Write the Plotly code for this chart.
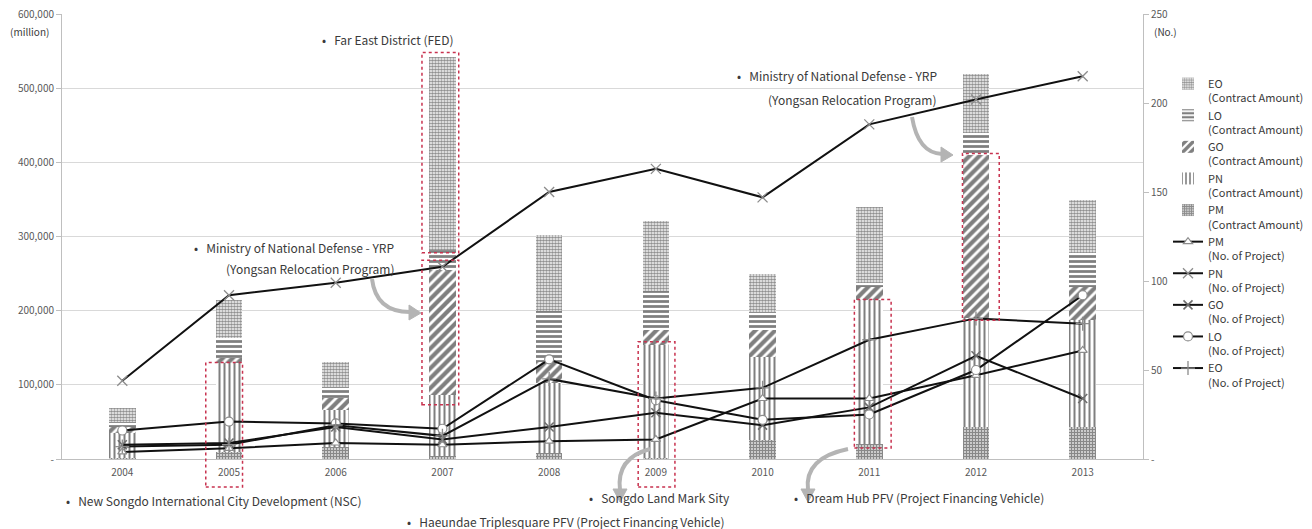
import plotly.graph_objects as go

# ---- data -------------------------------------------------------------
years = ["2004", "2005", "2006", "2007", "2008", "2009", "2010", "2011", "2012", "2013"]

# contract amounts (million), stacked bottom -> top
pm_amount = [2000, 9000, 16000, 4000, 8000, 2000, 25000, 20000, 43000, 43000]
pn_amount = [33000, 120000, 50000, 82000, 94000, 152000, 112000, 194000, 147000, 144000]
go_amount = [8000, 7000, 16000, 169000, 29000, 20000, 37000, 18000, 220000, 45000]
lo_amount = [7000, 27000, 15000, 27000, 68000, 52000, 24000, 5000, 29000, 46000]
eo_amount = [19000, 51000, 34000, 260000, 103000, 95000, 51000, 103000, 80000, 71000]

# number of projects
pm_count = [4, 6, 9, 8, 10, 11, 34, 34, 47, 61]
pn_count = [44, 92, 99, 108, 150, 163, 147, 188, 202, 215]
go_count = [8, 9, 18, 11, 18, 26, 19, 29, 58, 34]
lo_count = [16, 21, 20, 17, 56, 33, 22, 25, 50, 92]
eo_count = [7, 8, 19, 13, 45, 34, 40, 67, 79, 76]

left_ticks = [0, 100000, 200000, 300000, 400000, 500000, 600000]
left_ticktext = ["-", "100,000", "200,000", "300,000", "400,000", "500,000", "600,000"]
right_ticks = [0, 50, 100, 150, 200, 250]
right_ticktext = ["-", "50", "100", "150", "200", "250"]

# ---- geometry helpers (plot area in pixels) ---------------------------
W, H = 1312, 529
L, R, T, B = 62, 1143, 14, 459
Y_MAX = 600000
N = len(years)


def px(x):
    return (x - L) / (R - L)


def py(y):
    return (B - y) / (B - T)


def cat_x(i, off=0.0):
    return (i + 0.5 + off) / N


FONT = "Noto Sans CJK KR, Noto Sans, sans-serif"
TXT = "#3a3a3a"
GRAY = "#595959"

fig = go.Figure()

# ---- stacked bars ------------------------------------------------------
bar_specs = [
    ("PM", pm_amount, dict(shape="+", fgcolor="#111111", size=3, solidity=0.75), 5),
    ("PN", pn_amount, dict(shape="|", fgcolor="#000000", size=5, solidity=0.4), 4),
    ("GO", go_amount, dict(shape="/", fgcolor="#000000", size=7, solidity=0.6), 3),
    ("LO", lo_amount, dict(shape="-", fgcolor="#000000", size=5, solidity=0.55), 2),
    ("EO", eo_amount, dict(shape=".", fgcolor="#222222", size=3, solidity=0.65), 1),
]
for name, vals, pat, rank in bar_specs:
    fig.add_trace(go.Bar(
        x=years, y=vals, name=f"{name}<br>(Contract Amount)",
        width=0.25,
        marker=dict(color="white", line=dict(width=0),
                    pattern=dict(bgcolor="white", fillmode="overlay", **pat)),
        legendrank=rank,
    ))

# ---- project-count lines -------------------------------------------------
line_specs = [
    ("PM", pm_count, dict(symbol="triangle-up", size=8, color="white",
                          line=dict(color="#8c8c8c", width=1.2)), 6),
    ("PN", pn_count, dict(symbol="x-thin", size=10,
                          line=dict(color="#8c8c8c", width=1.3)), 7),
    ("GO", go_count, dict(symbol="x-thin", size=9,
                          line=dict(color="#6e6e6e", width=1.6)), 8),
    ("LO", lo_count, dict(symbol="circle", size=9, color="white",
                          line=dict(color="#8c8c8c", width=1.2)), 9),
    ("EO", eo_count, dict(symbol="cross-thin", size=10,
                          line=dict(color="#8c8c8c", width=1.3)), 10),
]
for name, vals, mk, rank in line_specs:
    fig.add_trace(go.Scatter(
        x=years, y=vals, yaxis="y2", mode="lines+markers",
        name=f"{name}<br>(No. of Project)",
        line=dict(color="#111111", width=2),
        marker=mk, legendrank=rank,
    ))

# ---- highlight boxes (red dotted) ----------------------------------------
def stack_top(i, upto):
    series = [pm_amount, pn_amount, go_amount, lo_amount, eo_amount]
    return sum(s[i] for s in series[:upto])


boxes = [
    (1, -0.063, (stack_top(1, 2) + 1000) / Y_MAX),
    (3, (stack_top(3, 4) - 4000) / Y_MAX, (stack_top(3, 5) + 6000) / Y_MAX),
    (3, (stack_top(3, 2) - 13000) / Y_MAX, (stack_top(3, 3) + 13000) / Y_MAX),
    (5, -0.063, (stack_top(5, 2) + 4000) / Y_MAX),
    (7, (stack_top(7, 1) - 5000) / Y_MAX, (stack_top(7, 2) + 1000) / Y_MAX),
    (8, (stack_top(8, 2) - 3000) / Y_MAX, (stack_top(8, 3) + 2000) / Y_MAX),
]
shapes = []
for i, y0, y1 in boxes:
    shapes.append(dict(type="rect", xref="paper", yref="paper",
                       x0=cat_x(i, -0.17), x1=cat_x(i, 0.17), y0=y0, y1=y1,
                       line=dict(color="#c8324f", width=1.5, dash="dot"),
                       fillcolor="rgba(0,0,0,0)", layer="above"))


# ---- curved gray arrows ----------------------------------------------------
def curve(p0, c, p1):
    return (f"M {px(p0[0])},{py(p0[1])} Q {px(c[0])},{py(c[1])} "
            f"{px(p1[0])},{py(p1[1])}")


def tri(a, b, c):
    return (f"M {px(a[0])},{py(a[1])} L {px(b[0])},{py(b[1])} "
            f"L {px(c[0])},{py(c[1])} Z")


ARROW = "#b4b4b4"
arrows = [
    # (curve start, control, end, head triangle)
    ((372, 279), (376, 312), (410, 312), ((421, 313), (409, 305), (409, 320))),
    ((912, 117), (918, 153), (942, 154), ((953, 155), (941, 147), (941, 162))),
    ((650, 449), (616, 458), (620, 490), ((620, 502), (613, 489), (627, 489))),
    ((848, 449), (804, 458), (808, 490), ((808, 502), (801, 489), (815, 489))),
]
for p0, c, p1, head in arrows:
    shapes.append(dict(type="path", xref="paper", yref="paper",
                       path=curve(p0, c, p1),
                       line=dict(color=ARROW, width=4), layer="above"))
    shapes.append(dict(type="path", xref="paper", yref="paper",
                       path=tri(*head), fillcolor=ARROW,
                       line=dict(color=ARROW, width=1), layer="above"))

# ---- text labels ---------------------------------------------------------------
NB = "\u00a0"


def note(text, x, y, anchor="left", size=12):
    return dict(text=text, xref="paper", yref="paper", x=px(x), y=py(y),
                xanchor=anchor, yanchor="middle", showarrow=False,
                font=dict(family=FONT, size=size, color=TXT))


bullet = "•" + NB * 3
annotations = [
    note(bullet + "Far East District (FED)", 320, 39),
    note(bullet + "Ministry of National Defense - YRP", 192, 247),
    note("(Yongsan Relocation Program)", 310, 268, anchor="center"),
    note(bullet + "Ministry of National Defense - YRP", 735, 76),
    note("(Yongsan Relocation Program)", 852, 99, anchor="center"),
    note(bullet + "New Songdo International City Development (NSC)", 64, 500),
    note(bullet + "Haeundae Triplesquare PFV (Project Financing Vehicle)", 405, 521),
    note(bullet + "Songdo Land Mark Sity", 587, 498),
    note(bullet + "Dream Hub PFV (Project Financing Vehicle)", 792, 498),
    note("(million)", 51, 31, anchor="right", size=10),
    note("(No.)", 1152, 31, anchor="left", size=10),
]

axis_font = dict(family=FONT, size=10, color=GRAY)

fig.update_layout(
    width=W, height=H,
    margin=dict(l=L, r=W - R, t=T, b=H - B, autoexpand=False),
    paper_bgcolor="white", plot_bgcolor="white",
    barmode="stack",
    font=dict(family=FONT, size=11, color=TXT),
    xaxis=dict(type="category", showline=True, linecolor="#bfbfbf",
               linewidth=1, ticks="", showgrid=False, tickfont=axis_font,
               ticklabelstandoff=4),
    yaxis=dict(range=[0, Y_MAX], tickvals=left_ticks, ticktext=left_ticktext,
               showgrid=True, gridcolor="#d9d9d9", gridwidth=1,
               showline=True, linecolor="#bfbfbf", ticks="outside",
               ticklen=5, tickcolor="#bfbfbf", tickfont=axis_font,
               zeroline=False, automargin=False),
    yaxis2=dict(range=[0, 250], tickvals=right_ticks, ticktext=right_ticktext,
                overlaying="y", side="right", showgrid=False,
                showline=True, linecolor="#bfbfbf", ticks="outside",
                ticklen=5, tickcolor="#bfbfbf", tickfont=axis_font,
                zeroline=False, automargin=False),
    legend=dict(x=px(1168), y=py(70), xanchor="left", yanchor="top",
                traceorder="normal", valign="top", tracegroupgap=0,
                itemwidth=30, font=dict(family=FONT, size=11, color=TXT),
                bgcolor="rgba(0,0,0,0)"),
    shapes=shapes,
    annotations=annotations,
)

fig.write_html("out.html")
